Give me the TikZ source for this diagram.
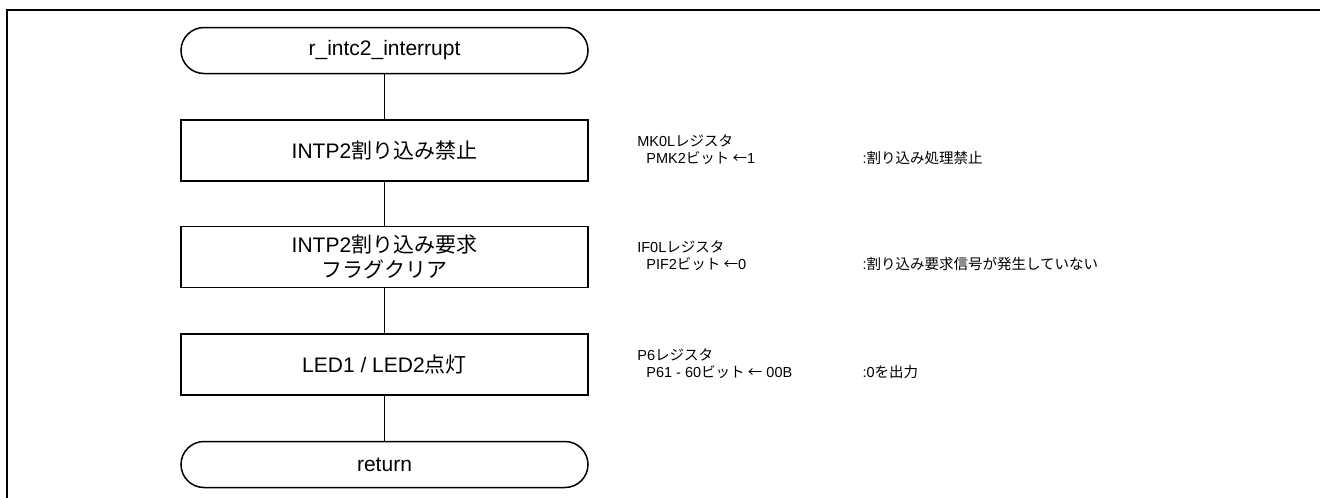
\documentclass[tikz,border=0pt]{standalone}
\usepackage{fontspec}
\setmainfont{Liberation Sans}
\newfontfamily\jp{Noto Sans CJK JP}
\usetikzlibrary{positioning}

\begin{document}
\begin{tikzpicture}[x=1pt, y=-1pt, node distance=45pt, line width=1.2pt]
\tikzstyle{proc} = [draw, line width=1.5pt, minimum width=407pt, minimum height=61pt, align=center, font=\fontsize{21pt}{25pt}\selectfont]
\tikzstyle{term} = [proc, minimum height=46pt, rounded corners=23pt]
\tikzstyle{reg} = [anchor=base west, inner sep=0pt, font=\fontsize{14.5pt}{17pt}\selectfont]
\useasboundingbox (0,0) rectangle (1320,498);
\draw [line width=2.4pt] (7,498) -- (7,10) -- (1320,10);
% flow
\node (start) [term] at (384.5,50.5) {r\_intc2\_interrupt};
\node (intp) [proc, below=of start] {INTP2{\jp 割り込み禁止}};
\node (flag) [proc, below=44pt of intp] {INTP2{\jp 割り込み要求}\\{\jp フラグクリア}};
\node (led) [proc, below=of flag] {LED1 / LED2{\jp 点灯}};
\node (ret) [term, below=of led] {return};
\foreach \from/\to in {start/intp, intp/flag, flag/led, led/ret}
\draw (\from) -- (\to);
% registers
\coordinate (notecol) at (862,0);
\node (mk0l) [reg] at ([xshift=48pt,yshift=4.5pt]intp.east) {MK0L{\jp レジスタ}};
\node (pmk2) [reg] at ([xshift=9pt,yshift=-17pt]mk0l.base west) {PMK2{\jp ビット ←}1};
\node (note1) [reg] at (pmk2.base -| notecol) {:{\jp 割り込み処理禁止}};
\node (if0l) [reg] at ([xshift=48pt,yshift=4.5pt]flag.east) {IF0L{\jp レジスタ}};
\node (pif2) [reg] at ([xshift=9pt,yshift=-17pt]if0l.base west) {PIF2{\jp ビット ←}0};
\node (note2) [reg] at (pif2.base -| notecol) {:{\jp 割り込み要求信号が発生していない}};
\node (p6) [reg] at ([xshift=48pt,yshift=4.5pt]led.east) {P6{\jp レジスタ}};
\node (p61) [reg] at ([xshift=9pt,yshift=-17pt]p6.base west) {P61 - 60{\jp ビット ←} 00B};
\node (note3) [reg] at (p61.base -| notecol) {:0{\jp を出力}};
\end{tikzpicture}
\end{document}
